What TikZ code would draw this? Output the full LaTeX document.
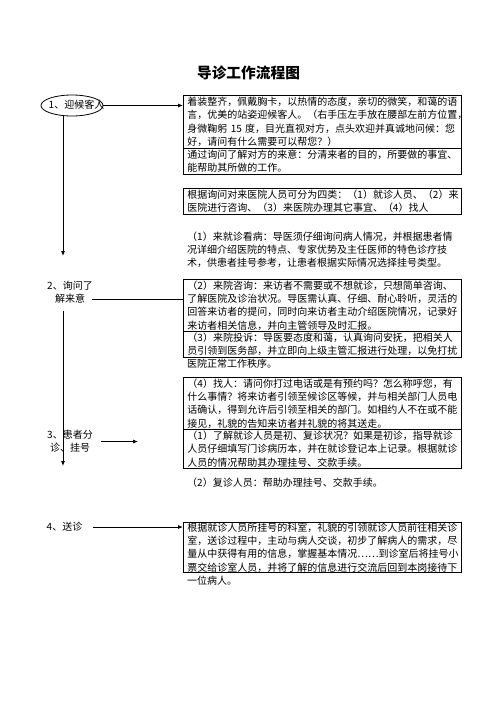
\documentclass[tikz,border=0pt]{standalone}
\usepackage{fontspec}
\newfontfamily\cjk{Noto Sans CJK SC}
\usetikzlibrary{shapes.geometric,arrows.meta}
\begin{document}
\begin{tikzpicture}[x=1pt,y=-1pt,
  txt/.style={font=\cjk\fontsize{10}{13.3}\selectfont},
  box/.style={txt,draw,line width=0.9pt,anchor=north west,minimum width=278pt,
    text width=270pt,inner xsep=4pt,inner ysep=0pt,align=left},
  freetext/.style={txt,anchor=west,text width=270pt,inner xsep=4pt,inner ysep=0pt,align=left},
  lbl/.style={txt,align=center,inner sep=0pt},
  conn/.style={line width=0.8pt},
  arr/.style={conn,-{Latex[length=5pt,width=4pt]}}]
\useasboundingbox[fill=white] (0,0) rectangle (496,702);

\node[font=\cjk\bfseries\fontsize{14.7}{16}\selectfont] (title) at (248.5,73) {导诊工作流程图};

% step 1
\node[draw,ellipse,line width=0.8pt,minimum width=62pt,minimum height=21pt,inner sep=0pt] (e1) at (72,105.5) {};
\node[lbl] (l1) at (76.5,105) {1、迎候客人};
\node[box,minimum height=53pt] (b1) at (183,95) {着装整齐，佩戴胸卡，以热情的态度，亲切的微笑，和蔼的语\\言，优美的站姿迎候客人。（右手压左手放在腰部左前方位置，\\身微鞠躬~15~度，目光直视对方，点头欢迎并真诚地问候：您\\好，请问有什么需要可以帮您？）};
\node[box,minimum height=26pt] (b2) at (183,148) {通过询问了解对方的来意：分清来者的目的，所要做的事宜、\\能帮助其所做的工作。};
\draw[arr] (e1.east) -- (e1.east -| b1.west);

\node[box,minimum height=26pt] (b3) at (183,188) {根据询问对来医院人员可分为四类：（1）就诊人员、（2）来\\医院进行咨询、（3）来医院办理其它事宜、（4）找人};
\node[txt,anchor=north west,text width=270pt,inner xsep=4pt,inner ysep=0pt,align=left] (t1) at (183,231.5) {（1）来就诊看病：导医须仔细询问病人情况，并根据患者情\\况详细介绍医院的特点、专家优势及主任医师的特色诊疗技\\术，供患者挂号参考，让患者根据实际情况选择挂号类型。};

\coordinate (a1) at (63,256);
\draw[arr] (a1 |- e1.south) -- (a1);

% step 2
\node[lbl] (l2) at (70,292) {2、询问了\\解来意};
\node[box,minimum height=52pt] (b5) at (183,279) {（2）来院咨询：来访者不需要或不想就诊，只想简单咨询、\\了解医院及诊治状况。导医需认真、仔细、耐心聆听，灵活的\\回答来访者的提问，同时向来访者主动介绍医院情况，记录好\\来访者相关信息，并向主管领导及时汇报。};
\node[box,minimum height=26pt] (b6) at (183,331) {（3）来院投诉：导医要态度和蔼，认真询问安抚，把相关人\\员引领到医务部，并立即向上级主管汇报进行处理，以免打扰};
\node[freetext] (t2) at (183,363.5) {医院正常工作秩序。};
\coordinate (c2) at (92,299);
\draw[conn] (c2) -- (c2 -| b5.west);

\node[box,minimum height=52pt] (b7) at (183,377) {（4）找人：请问你打过电话或是有预约吗？怎么称呼您，有\\什么事情？将来访者引领至候诊区等候，并与相关部门人员电\\话确认，得到允许后引领至相关的部门。如相约人不在或不能\\接见，礼貌的告知来访者并礼貌的将其送走。};

\coordinate (s2) at (63,311);
\coordinate (a2) at (63,466);
\draw[arr] (s2) -- (a2);

% step 3
\node[lbl] (l3) at (70,441) {3、患者分\\诊、挂号};
\node[box,minimum height=39pt] (b8) at (183,429) {（1）了解就诊人员是初、复诊状况？如果是初诊，指导就诊\\人员仔细填写门诊病历本，并在就诊登记本上记录。根据就诊\\人员的情况帮助其办理挂号、交款手续。};
\node[freetext] (t3) at (183,482.5) {（2）复诊人员：帮助办理挂号、交款手续。};
\coordinate (c3a) at (101,441.5);
\coordinate (c3b) at (138,441.5);
\draw[arr] (c3a) -- (c3b);

% step 4
\node[lbl,anchor=west] (l4) at (46.5,527) {4、送诊};
\node[box,minimum height=50pt] (b9) at (183,522) {根据就诊人员所挂号的科室，礼貌的引领就诊人员前往相关诊\\室，送诊过程中，主动与病人交谈，初步了解病人的需求，尽\\量从中获得有用的信息，掌握基本情况……到诊室后将挂号小\\票交给诊室人员，并将了解的信息进行交流后回到本岗接待下};
\node[freetext] (t4) at (183,580.5) {一位病人。};
\coordinate (c4) at (93,527);
\draw[arr] (c4) -- (c4 -| b9.west);
\end{tikzpicture}
\end{document}
